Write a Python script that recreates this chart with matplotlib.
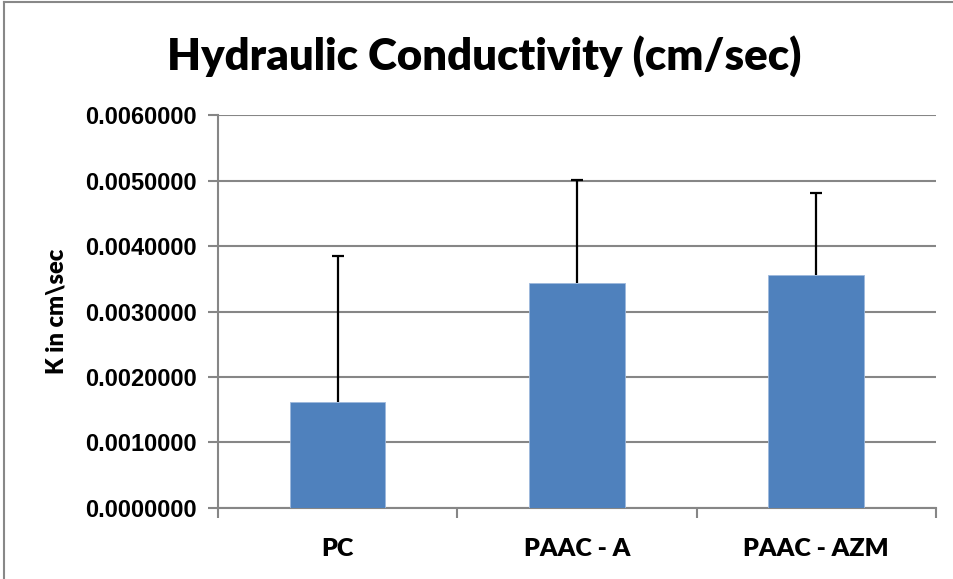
import numpy as np
import matplotlib.pyplot as plt
from matplotlib.lines import Line2D

# values
categories = ['PC', 'PAAC - A', 'PAAC - AZM']
k_mean = [0.001611, 0.003431, 0.003553]
k_err = [0.002238, 0.001575, 0.001254]
y_ticks = [0.0, 0.001, 0.002, 0.003, 0.004, 0.005, 0.006]

bar_color = '#4F81BD'
grid_color = '#868686'

fig = plt.figure(figsize=(9.54, 5.79), dpi=100)
ax = fig.add_axes([0.2285, 0.1231, 0.981 - 0.2285, 0.8009 - 0.1231])

x = np.arange(len(categories))
ax.bar(x, k_mean, width=0.4, color=bar_color, edgecolor='#9DB8DC', linewidth=0.6, zorder=3)
# only the upper half of the error bar is shown
_, caps, _ = ax.errorbar(x, k_mean, yerr=[np.zeros(len(k_err)), k_err], fmt='none',
                         ecolor='black', elinewidth=1.6, capsize=4.3, capthick=1.6, zorder=4)
caps[0].set_visible(False)

ax.set_xlim(-0.5, 2.5)
ax.set_ylim(0, 0.006)
ax.set_yticks(y_ticks)
ax.set_yticklabels(['%.7f' % v for v in y_ticks],
                   fontdict=dict(family='Liberation Sans', weight='bold', size=17))
ax.set_xticks(x)
ax.set_xticklabels(categories, fontdict=dict(family='Lato', weight='heavy', size=18))
ax.set_xticks([-0.5, 0.5, 1.5, 2.5], minor=True)
ax.tick_params(axis='x', which='major', length=0, pad=22)
ax.tick_params(axis='x', which='minor', length=7, width=1.5, color=grid_color)
ax.tick_params(axis='y', length=7, width=1.5, color=grid_color, pad=8)

ax.grid(axis='y', color=grid_color, linewidth=1.5, zorder=0)
ax.set_axisbelow(True)
for side in ['top', 'right']:
    ax.spines[side].set_visible(False)
for side in ['left', 'bottom']:
    ax.spines[side].set_color(grid_color)
    ax.spines[side].set_linewidth(1.5)

ax.set_ylabel('K in cm\\sec', fontfamily='Lato', fontweight='heavy', fontsize=17)
ax.yaxis.set_label_coords(-0.21, 0.5)

fig.text(0.508, 0.903, 'Hydraulic Conductivity (cm/sec)', ha='center', va='center',
         fontfamily='Lato', fontweight='heavy', fontsize=31.5)

# outer chart frame
fig.add_artist(Line2D([0.004, 0.004], [0, 0.997], color='#888888', linewidth=1.5))
fig.add_artist(Line2D([0.004, 1], [0.997, 0.997], color='#888888', linewidth=1.5))

fig.savefig('out.png', dpi=100)
